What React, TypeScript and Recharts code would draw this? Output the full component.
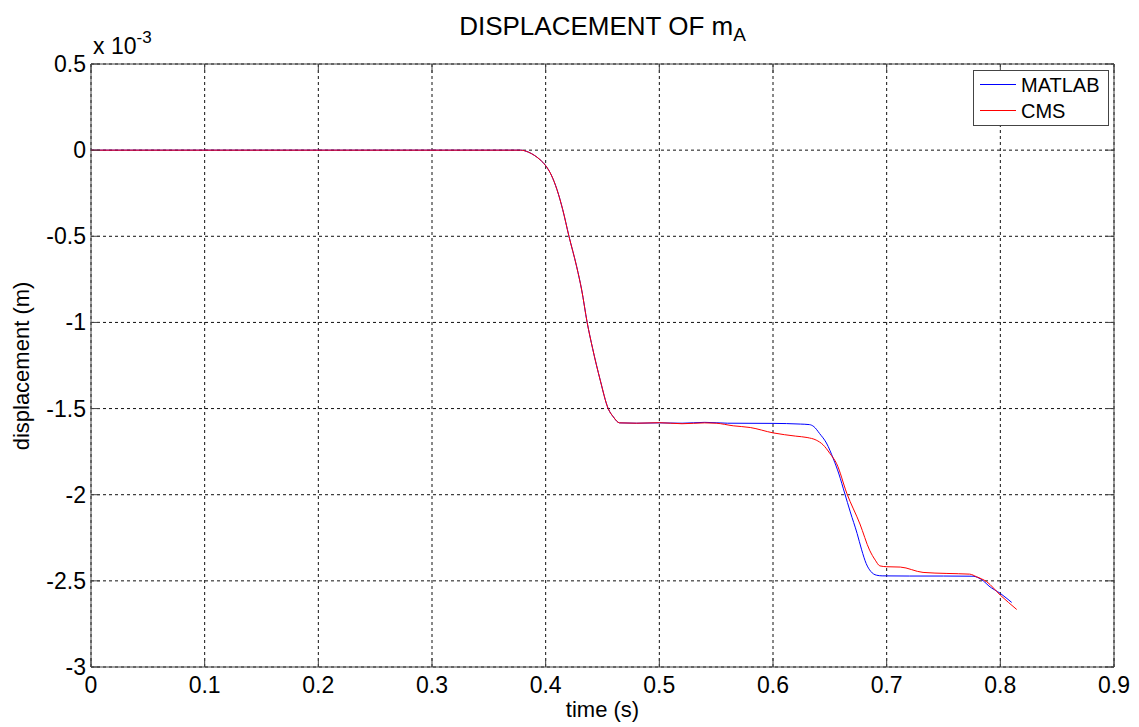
import React from 'react'
import {
  LineChart,
  Line,
  XAxis,
  YAxis,
  CartesianGrid,
  ReferenceArea,
  Legend,
} from 'recharts'

// displacement values are in units of 1e-3 m
const matlabTime = [
  0, 0.1, 0.2, 0.3, 0.378, 0.385, 0.39, 0.395, 0.4, 0.405, 0.41, 0.415, 0.4205, 0.4273, 0.4317,
  0.4365, 0.4413, 0.448, 0.455, 0.4595, 0.465, 0.48, 0.5, 0.52, 0.54, 0.56, 0.6, 0.624,
  0.632, 0.636, 0.641, 0.647, 0.653, 0.658, 0.663, 0.668, 0.674, 0.678, 0.682, 0.686,
  0.691, 0.696, 0.72, 0.75, 0.776, 0.78, 0.785, 0.79, 0.8, 0.81,
]
const matlabDisp = [
  0, 0, 0, 0, 0, -0.012, -0.03, -0.055, -0.09, -0.145, -0.23, -0.345, -0.5, -0.677, -0.812,
  -1.0, -1.151, -1.335, -1.5, -1.548, -1.583, -1.585, -1.583, -1.585, -1.58, -1.585, -1.586, -1.59,
  -1.593, -1.605, -1.645, -1.7, -1.79, -1.88, -1.99, -2.1, -2.225, -2.32, -2.4, -2.445,
  -2.467, -2.471, -2.472, -2.472, -2.473, -2.48, -2.5, -2.53, -2.573, -2.625,
]

const cmsTime = [
  0, 0.1, 0.2, 0.3, 0.378, 0.385, 0.39, 0.395, 0.4, 0.405, 0.41, 0.415, 0.4205, 0.4273, 0.4317,
  0.4365, 0.4413, 0.448, 0.455, 0.4595, 0.465, 0.48, 0.5, 0.52, 0.54, 0.55, 0.565, 0.58,
  0.6, 0.62, 0.63, 0.638, 0.644, 0.65, 0.656, 0.665, 0.6765, 0.685, 0.69, 0.694, 0.7,
  0.712, 0.732, 0.753, 0.773, 0.779, 0.788, 0.8, 0.8144,
]
const cmsDisp = [
  0, 0, 0, 0, 0, -0.012, -0.03, -0.055, -0.09, -0.145, -0.23, -0.345, -0.5, -0.677, -0.812,
  -1.0, -1.151, -1.335, -1.5, -1.548, -1.583, -1.585, -1.582, -1.588, -1.583, -1.585, -1.6, -1.61,
  -1.641, -1.66, -1.668, -1.683, -1.71, -1.76, -1.82, -1.993, -2.17, -2.322, -2.38, -2.413, -2.418,
  -2.42, -2.451, -2.457, -2.461, -2.476, -2.505, -2.583, -2.666,
]

const xTicks = [0, 0.1, 0.2, 0.3, 0.4, 0.5, 0.6, 0.7, 0.8, 0.9]
const yTicks = [0.5, 0, -0.5, -1, -1.5, -2, -2.5, -3]

const matlabData = matlabTime.map((t, i) => ({ t, v: matlabDisp[i] }))
const cmsData = cmsTime.map((t, i) => ({ t, v: cmsDisp[i] }))

const W = 1139
const H = 727
const LEFT = 91
const TOP = 64
const RIGHT = 1114
const BOTTOM = 667
const FONT = '"Liberation Sans", Arial, Helvetica, sans-serif'
const AXIS = '#444'

function XTick(props: any) {
  const { x, payload } = props
  return (
    <g>
      <line x1={x} x2={x} y1={BOTTOM} y2={BOTTOM - 9} stroke={AXIS} />
      <line x1={x} x2={x} y1={TOP} y2={TOP + 9} stroke={AXIS} />
      <text x={x} y={BOTTOM + 26} textAnchor="middle" fontSize={23} fontFamily={FONT} fill="#000">
        {String(payload.value)}
      </text>
    </g>
  )
}

function YTick(props: any) {
  const { y, payload } = props
  return (
    <g>
      <line x1={LEFT} x2={LEFT + 9} y1={y} y2={y} stroke={AXIS} />
      <line x1={RIGHT} x2={RIGHT - 9} y1={y} y2={y} stroke={AXIS} />
      <text x={86} y={y + 8} textAnchor="end" fontSize={23} fontFamily={FONT} fill="#000">
        {String(payload.value)}
      </text>
    </g>
  )
}

function LegendBox() {
  return (
    <svg width={136} height={56} style={{ display: 'block' }}>
      <rect x={0.5} y={0.5} width={135} height={55} fill="#fff" stroke={AXIS} />
      <line x1={7} x2={43} y1={14.5} y2={14.5} stroke="#0000ff" strokeWidth={1} />
      <line x1={7} x2={43} y1={40.5} y2={40.5} stroke="#ff0000" strokeWidth={1} />
      <text x={48} y={22} fontSize={20} fontFamily={FONT} fill="#000">MATLAB</text>
      <text x={48} y={48} fontSize={20} fontFamily={FONT} fill="#000">CMS</text>
    </svg>
  )
}

export default function App() {
  return (
    <div style={{ position: 'absolute', left: 0, top: 0, width: W, height: H, background: '#fff', fontFamily: FONT }}>
      <LineChart width={W} height={H} margin={{ top: TOP, right: W - RIGHT, bottom: 0, left: 0 }}>
        <CartesianGrid stroke="#111" strokeDasharray="3 3" />
        <XAxis
          dataKey="t"
          type="number"
          domain={[0, 0.9]}
          ticks={xTicks}
          height={H - BOTTOM}
          axisLine={false}
          tickLine={false}
          tick={<XTick />}
          interval={0}
          allowDataOverflow
        />
        <YAxis
          dataKey="v"
          type="number"
          domain={[-3, 0.5]}
          ticks={yTicks}
          width={LEFT}
          axisLine={false}
          tickLine={false}
          tick={<YTick />}
          interval={0}
          allowDataOverflow
        />
        <ReferenceArea x1={0} x2={0.9} y1={-3} y2={0.5} fill="none" stroke={AXIS} strokeWidth={1} />
        <Line
          data={matlabData}
          dataKey="v"
          name="MATLAB"
          type="monotone"
          stroke="#0000ff"
          strokeWidth={1}
          dot={false}
          isAnimationActive={false}
        />
        <Line
          data={cmsData}
          dataKey="v"
          name="CMS"
          type="monotone"
          stroke="#ff0000"
          strokeWidth={1}
          dot={false}
          isAnimationActive={false}
        />
        <Legend
          layout="vertical"
          align="center"
          verticalAlign="middle"
          content={() => <LegendBox />}
          wrapperStyle={{ left: 973, top: 70, width: 136, height: 56 }}
        />
      </LineChart>

      <div style={{ position: 'absolute', left: LEFT, width: RIGHT - LEFT, top: 11, textAlign: 'center', fontSize: 26, color: '#000' }}>
        DISPLACEMENT OF m<sub style={{ fontSize: 19 }}>A</sub>
      </div>
      <div style={{ position: 'absolute', left: 93, top: 30, fontSize: 23, color: '#000', whiteSpace: 'nowrap' }}>
        x 10<sup style={{ fontSize: 17, position: 'relative', top: -2 }}>-3</sup>
      </div>
      <div style={{ position: 'absolute', left: LEFT, width: RIGHT - LEFT, top: 697, textAlign: 'center', fontSize: 22, color: '#000' }}>
        time (s)
      </div>
      <div
        style={{
          position: 'absolute',
          left: 22,
          top: (TOP + BOTTOM) / 2,
          transform: 'translate(-50%, -50%) rotate(-90deg)',
          fontSize: 22,
          color: '#000',
          whiteSpace: 'nowrap',
        }}
      >
        displacement (m)
      </div>
    </div>
  )
}
